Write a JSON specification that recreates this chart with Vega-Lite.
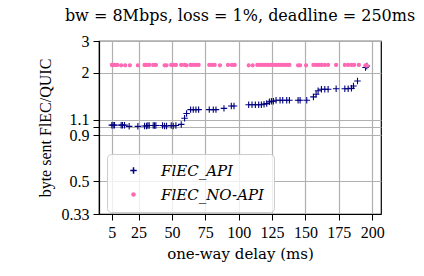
{
  "$schema": "https://vega.github.io/schema/vega-lite/v6.json",
  "autosize": {"type": "none"},
  "padding": {"left": 99, "top": 41, "right": 43, "bottom": 62},
  "width": 282,
  "height": 173,
  "background": "white",
  "title": {"text": "bw = 8Mbps, loss = 1%, deadline = 250ms", "font": "DejaVu Serif", "fontSize": 16, "fontWeight": "normal", "color": "black", "offset": 9, "anchor": "middle"},
  "config": {
    "view": {"stroke": "black", "strokeWidth": 1.2},
    "axis": {"labelFont": "Liberation Serif", "titleFont": "Liberation Serif", "labelFontSize": 16, "titleFontSize": 16, "titleFontWeight": "normal", "labelColor": "black", "titleColor": "black", "domainColor": "black", "tickColor": "black", "gridColor": "#b0b0b0", "gridWidth": 1.2, "tickSize": 6, "labelPadding": 4, "domainWidth": 1.2}
  },
  "data": {"values": [
    {"delay": 5, "ratio": 1.025, "series": "FlEC_API"},
    {"delay": 6, "ratio": 1.025, "series": "FlEC_API"},
    {"delay": 7, "ratio": 1.025, "series": "FlEC_API"},
    {"delay": 12, "ratio": 1.025, "series": "FlEC_API"},
    {"delay": 13, "ratio": 1.025, "series": "FlEC_API"},
    {"delay": 14.5, "ratio": 1.025, "series": "FlEC_API"},
    {"delay": 18, "ratio": 1.01, "series": "FlEC_API"},
    {"delay": 24.5, "ratio": 1.01, "series": "FlEC_API"},
    {"delay": 29.5, "ratio": 1.015, "series": "FlEC_API"},
    {"delay": 31, "ratio": 1.015, "series": "FlEC_API"},
    {"delay": 32, "ratio": 1.02, "series": "FlEC_API"},
    {"delay": 33, "ratio": 1.02, "series": "FlEC_API"},
    {"delay": 36, "ratio": 1.02, "series": "FlEC_API"},
    {"delay": 37, "ratio": 1.02, "series": "FlEC_API"},
    {"delay": 38, "ratio": 1.02, "series": "FlEC_API"},
    {"delay": 43, "ratio": 1.02, "series": "FlEC_API"},
    {"delay": 44.5, "ratio": 1.015, "series": "FlEC_API"},
    {"delay": 46, "ratio": 1.015, "series": "FlEC_API"},
    {"delay": 49.5, "ratio": 1.02, "series": "FlEC_API"},
    {"delay": 51, "ratio": 1.015, "series": "FlEC_API"},
    {"delay": 53, "ratio": 1.02, "series": "FlEC_API"},
    {"delay": 57, "ratio": 1.035, "series": "FlEC_API"},
    {"delay": 59.5, "ratio": 1.12, "series": "FlEC_API"},
    {"delay": 61, "ratio": 1.19, "series": "FlEC_API"},
    {"delay": 64, "ratio": 1.25, "series": "FlEC_API"},
    {"delay": 66, "ratio": 1.25, "series": "FlEC_API"},
    {"delay": 68, "ratio": 1.25, "series": "FlEC_API"},
    {"delay": 70, "ratio": 1.25, "series": "FlEC_API"},
    {"delay": 78, "ratio": 1.25, "series": "FlEC_API"},
    {"delay": 81, "ratio": 1.25, "series": "FlEC_API"},
    {"delay": 83, "ratio": 1.25, "series": "FlEC_API"},
    {"delay": 89, "ratio": 1.27, "series": "FlEC_API"},
    {"delay": 94.5, "ratio": 1.31, "series": "FlEC_API"},
    {"delay": 96.5, "ratio": 1.31, "series": "FlEC_API"},
    {"delay": 107.5, "ratio": 1.33, "series": "FlEC_API"},
    {"delay": 110, "ratio": 1.33, "series": "FlEC_API"},
    {"delay": 112.5, "ratio": 1.33, "series": "FlEC_API"},
    {"delay": 115, "ratio": 1.33, "series": "FlEC_API"},
    {"delay": 117, "ratio": 1.33, "series": "FlEC_API"},
    {"delay": 119, "ratio": 1.34, "series": "FlEC_API"},
    {"delay": 121, "ratio": 1.35, "series": "FlEC_API"},
    {"delay": 123, "ratio": 1.38, "series": "FlEC_API"},
    {"delay": 124.5, "ratio": 1.39, "series": "FlEC_API"},
    {"delay": 126, "ratio": 1.39, "series": "FlEC_API"},
    {"delay": 128, "ratio": 1.41, "series": "FlEC_API"},
    {"delay": 131, "ratio": 1.41, "series": "FlEC_API"},
    {"delay": 133, "ratio": 1.41, "series": "FlEC_API"},
    {"delay": 136, "ratio": 1.41, "series": "FlEC_API"},
    {"delay": 138, "ratio": 1.41, "series": "FlEC_API"},
    {"delay": 144.5, "ratio": 1.41, "series": "FlEC_API"},
    {"delay": 146, "ratio": 1.41, "series": "FlEC_API"},
    {"delay": 151, "ratio": 1.41, "series": "FlEC_API"},
    {"delay": 156, "ratio": 1.47, "series": "FlEC_API"},
    {"delay": 158, "ratio": 1.52, "series": "FlEC_API"},
    {"delay": 159.5, "ratio": 1.59, "series": "FlEC_API"},
    {"delay": 162, "ratio": 1.62, "series": "FlEC_API"},
    {"delay": 164.5, "ratio": 1.62, "series": "FlEC_API"},
    {"delay": 167, "ratio": 1.62, "series": "FlEC_API"},
    {"delay": 173, "ratio": 1.63, "series": "FlEC_API"},
    {"delay": 179.5, "ratio": 1.63, "series": "FlEC_API"},
    {"delay": 182, "ratio": 1.63, "series": "FlEC_API"},
    {"delay": 184.5, "ratio": 1.64, "series": "FlEC_API"},
    {"delay": 186, "ratio": 1.69, "series": "FlEC_API"},
    {"delay": 189, "ratio": 1.8, "series": "FlEC_API"},
    {"delay": 195, "ratio": 2.14, "series": "FlEC_API"},
    {"delay": 196, "ratio": 2.18, "series": "FlEC_API"},
    {"delay": 5, "ratio": 2.21, "series": "FlEC_NO-API"},
    {"delay": 6, "ratio": 2.21, "series": "FlEC_NO-API"},
    {"delay": 7, "ratio": 2.21, "series": "FlEC_NO-API"},
    {"delay": 9, "ratio": 2.21, "series": "FlEC_NO-API"},
    {"delay": 12, "ratio": 2.2, "series": "FlEC_NO-API"},
    {"delay": 15, "ratio": 2.2, "series": "FlEC_NO-API"},
    {"delay": 18.5, "ratio": 2.2, "series": "FlEC_NO-API"},
    {"delay": 24.5, "ratio": 2.2, "series": "FlEC_NO-API"},
    {"delay": 29.5, "ratio": 2.21, "series": "FlEC_NO-API"},
    {"delay": 31, "ratio": 2.21, "series": "FlEC_NO-API"},
    {"delay": 33, "ratio": 2.21, "series": "FlEC_NO-API"},
    {"delay": 36, "ratio": 2.21, "series": "FlEC_NO-API"},
    {"delay": 38, "ratio": 2.21, "series": "FlEC_NO-API"},
    {"delay": 44.5, "ratio": 2.2, "series": "FlEC_NO-API"},
    {"delay": 46, "ratio": 2.2, "series": "FlEC_NO-API"},
    {"delay": 49.5, "ratio": 2.21, "series": "FlEC_NO-API"},
    {"delay": 51, "ratio": 2.21, "series": "FlEC_NO-API"},
    {"delay": 53, "ratio": 2.21, "series": "FlEC_NO-API"},
    {"delay": 57, "ratio": 2.21, "series": "FlEC_NO-API"},
    {"delay": 59.5, "ratio": 2.21, "series": "FlEC_NO-API"},
    {"delay": 61, "ratio": 2.2, "series": "FlEC_NO-API"},
    {"delay": 64, "ratio": 2.21, "series": "FlEC_NO-API"},
    {"delay": 66, "ratio": 2.21, "series": "FlEC_NO-API"},
    {"delay": 68, "ratio": 2.21, "series": "FlEC_NO-API"},
    {"delay": 70, "ratio": 2.21, "series": "FlEC_NO-API"},
    {"delay": 78, "ratio": 2.21, "series": "FlEC_NO-API"},
    {"delay": 80, "ratio": 2.21, "series": "FlEC_NO-API"},
    {"delay": 82, "ratio": 2.21, "series": "FlEC_NO-API"},
    {"delay": 86, "ratio": 2.2, "series": "FlEC_NO-API"},
    {"delay": 92, "ratio": 2.21, "series": "FlEC_NO-API"},
    {"delay": 95, "ratio": 2.21, "series": "FlEC_NO-API"},
    {"delay": 97, "ratio": 2.21, "series": "FlEC_NO-API"},
    {"delay": 107.5, "ratio": 2.2, "series": "FlEC_NO-API"},
    {"delay": 110.5, "ratio": 2.2, "series": "FlEC_NO-API"},
    {"delay": 114, "ratio": 2.21, "series": "FlEC_NO-API"},
    {"delay": 116, "ratio": 2.21, "series": "FlEC_NO-API"},
    {"delay": 118, "ratio": 2.21, "series": "FlEC_NO-API"},
    {"delay": 120, "ratio": 2.21, "series": "FlEC_NO-API"},
    {"delay": 122, "ratio": 2.21, "series": "FlEC_NO-API"},
    {"delay": 124, "ratio": 2.21, "series": "FlEC_NO-API"},
    {"delay": 126, "ratio": 2.21, "series": "FlEC_NO-API"},
    {"delay": 128, "ratio": 2.21, "series": "FlEC_NO-API"},
    {"delay": 130, "ratio": 2.21, "series": "FlEC_NO-API"},
    {"delay": 132, "ratio": 2.21, "series": "FlEC_NO-API"},
    {"delay": 134, "ratio": 2.21, "series": "FlEC_NO-API"},
    {"delay": 136, "ratio": 2.21, "series": "FlEC_NO-API"},
    {"delay": 138, "ratio": 2.21, "series": "FlEC_NO-API"},
    {"delay": 144.5, "ratio": 2.2, "series": "FlEC_NO-API"},
    {"delay": 146, "ratio": 2.2, "series": "FlEC_NO-API"},
    {"delay": 150.5, "ratio": 2.2, "series": "FlEC_NO-API"},
    {"delay": 156, "ratio": 2.21, "series": "FlEC_NO-API"},
    {"delay": 158, "ratio": 2.21, "series": "FlEC_NO-API"},
    {"delay": 160, "ratio": 2.21, "series": "FlEC_NO-API"},
    {"delay": 162, "ratio": 2.21, "series": "FlEC_NO-API"},
    {"delay": 164.5, "ratio": 2.21, "series": "FlEC_NO-API"},
    {"delay": 167, "ratio": 2.21, "series": "FlEC_NO-API"},
    {"delay": 173, "ratio": 2.21, "series": "FlEC_NO-API"},
    {"delay": 179.5, "ratio": 2.21, "series": "FlEC_NO-API"},
    {"delay": 182, "ratio": 2.21, "series": "FlEC_NO-API"},
    {"delay": 184.5, "ratio": 2.21, "series": "FlEC_NO-API"},
    {"delay": 186.5, "ratio": 2.21, "series": "FlEC_NO-API"},
    {"delay": 190, "ratio": 2.21, "series": "FlEC_NO-API"},
    {"delay": 195, "ratio": 2.2, "series": "FlEC_NO-API"},
    {"delay": 196, "ratio": 2.19, "series": "FlEC_NO-API"}
  ]},
  "mark": {"type": "point", "filled": true, "strokeWidth": 1.1, "opacity": 1},
  "encoding": {
    "x": {"field": "delay", "type": "quantitative", "title": "one-way delay (ms)",
      "scale": {"domain": [-4.6, 206.6], "nice": false, "zero": false},
      "axis": {"values": [5, 25, 50, 75, 100, 125, 150, 175, 200], "grid": true, "titlePadding": 6, "labelFlush": false, "titleFont": "DejaVu Serif", "titleFontSize": 15}},
    "y": {"field": "ratio", "type": "quantitative", "title": "byte sent FlEC/QUIC",
      "scale": {"type": "log", "domain": [0.33, 3], "nice": false},
      "axis": {"values": [0.33, 0.5, 0.9, 1, 1.1, 2, 3], "grid": true, "labelExpr": "datum.value == 1 ? '' : toString(datum.value)", "labelOverlap": false, "titlePadding": 8, "labelFlush": false}},
    "color": {"field": "series", "type": "nominal", "sort": ["FlEC_API", "FlEC_NO-API"],
      "scale": {"domain": ["FlEC_API", "FlEC_NO-API"], "range": ["#000080", "#ff69b4"]},
      "legend": {"title": null, "orient": "none", "legendX": 8, "legendY": 113, "labelFont": "DejaVu Serif", "labelFontSize": 15, "labelFontStyle": "italic", "labelColor": "black", "padding": 9, "symbolOffset": 10, "labelOffset": 20, "rowPadding": 8, "strokeColor": "#cccccc", "cornerRadius": 4, "fillColor": "rgba(255,255,255,0.8)", "symbolSize": 30}},
    "stroke": {"field": "series", "type": "nominal",
      "scale": {"domain": ["FlEC_API", "FlEC_NO-API"], "range": ["#000080", "#ff69b4"]}, "legend": null},
    "shape": {"field": "series", "type": "nominal",
      "scale": {"domain": ["FlEC_API", "FlEC_NO-API"], "range": ["M-1,0L1,0M0,-1L0,1", "circle"]},
      "legend": null},
    "size": {"field": "series", "type": "nominal",
      "scale": {"domain": ["FlEC_API", "FlEC_NO-API"], "range": [42, 10]}, "legend": null}
  }
}
